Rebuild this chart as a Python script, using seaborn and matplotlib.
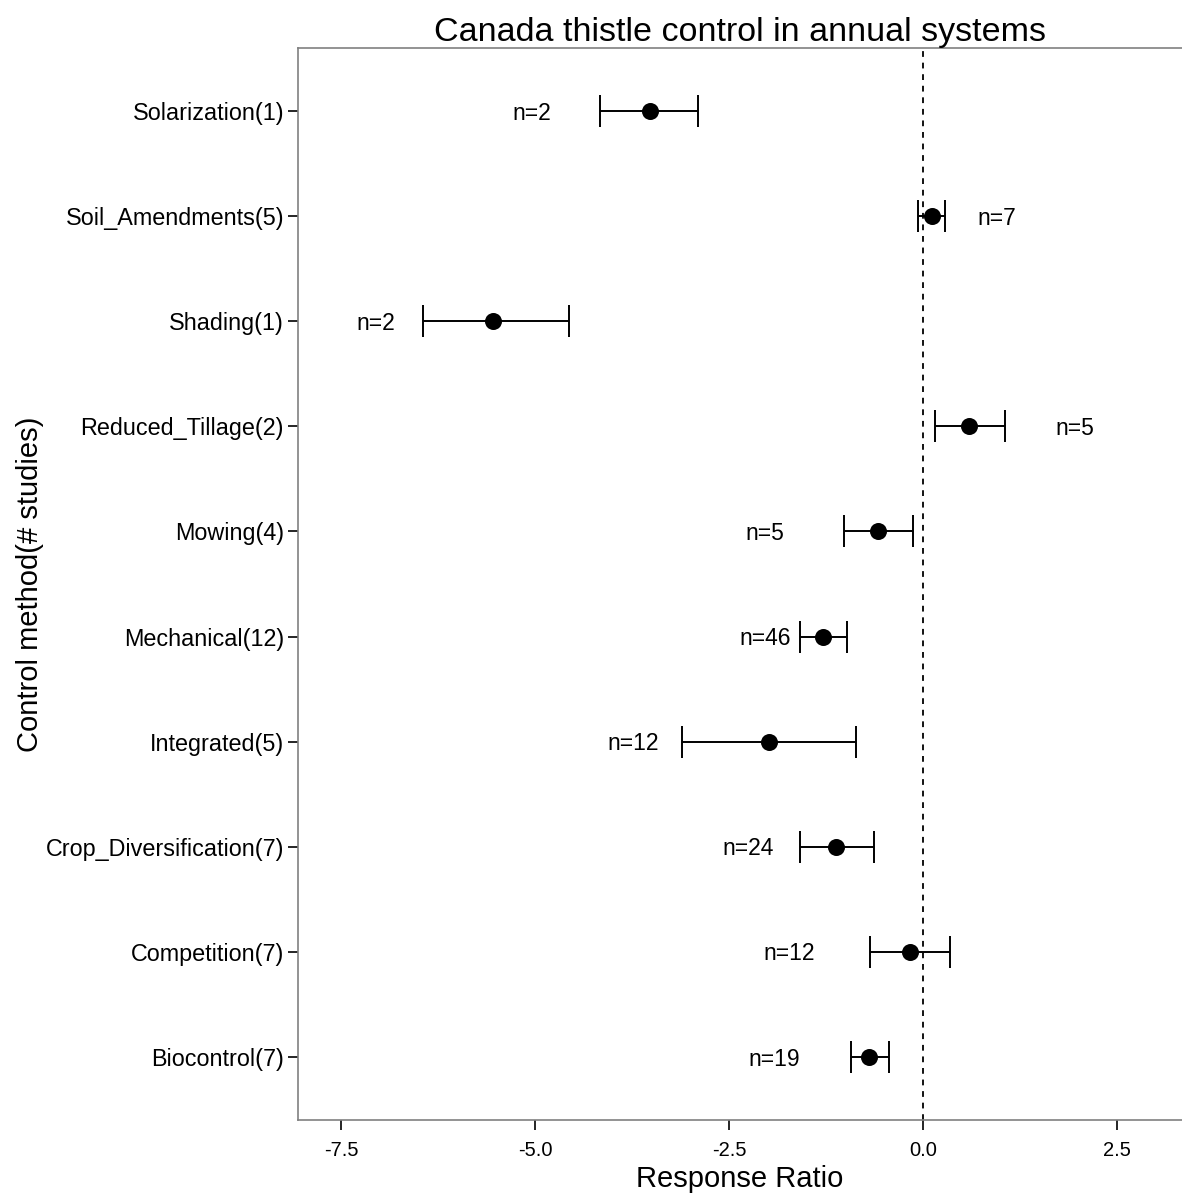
import numpy as np
import pandas as pd
import matplotlib
matplotlib.use("Agg")
import matplotlib.pyplot as plt
import seaborn as sns

# values (top to bottom)
methods = ["Solarization(1)", "Soil_Amendments(5)", "Shading(1)", "Reduced_Tillage(2)",
           "Mowing(4)", "Mechanical(12)", "Integrated(5)", "Crop_Diversification(7)",
           "Competition(7)", "Biocontrol(7)"]
rr = [-3.52, 0.12, -5.54, 0.59, -0.58, -1.29, -1.99, -1.12, -0.17, -0.70]
ci_low = [-4.17, -0.06, -6.45, 0.15, -1.02, -1.59, -3.11, -1.59, -0.68, -0.93]
ci_high = [-2.90, 0.28, -4.57, 1.06, -0.13, -0.98, -0.86, -0.63, 0.35, -0.44]
n_labels = ["n=2", "n=7", "n=2", "n=5", "n=5", "n=46", "n=12", "n=24", "n=12", "n=19"]
n_x = [-5.05, 0.95, -7.06, 1.96, -2.04, -2.03, -3.74, -2.25, -1.73, -1.92]

df = pd.DataFrame({"method": methods, "rr": rr, "lo": ci_low, "hi": ci_high,
                   "n": n_labels, "nx": n_x})

sns.set_style("white")
plt.rcParams["font.family"] = ["Liberation Sans", "DejaVu Sans"]
plt.rcParams["text.color"] = "black"
plt.rcParams["axes.labelcolor"] = "black"

fig = plt.figure(figsize=(11.82, 11.99), dpi=100)
ax = fig.add_axes([0.2521, 0.0659, 0.7479, 0.894])

pos = np.arange(len(df))
ax.errorbar(df["rr"], pos, xerr=[df["rr"] - df["lo"], df["hi"] - df["rr"]],
            fmt="none", ecolor="black", elinewidth=1.4, capsize=11.5, capthick=1.4, zorder=2)
sns.scatterplot(data=df, x="rr", y="method", ax=ax, color="black", s=150,
                edgecolor="black", linewidth=0, zorder=3)
for i, row in df.iterrows():
    ax.text(row["nx"], i + 0.02, row["n"], ha="center", va="center", fontsize=16.5, color="black")

ax.axvline(0, color="black", linestyle=(0, (3.2, 3.2)), linewidth=1.3, zorder=1)

ax.set_xlim(-8.06, 3.34)
ax.set_ylim(len(df) - 0.4, -0.6)
ax.set_xticks([-7.5, -5.0, -2.5, 0.0, 2.5])
ax.set_xticklabels(["-7.5", "-5.0", "-2.5", "0.0", "2.5"])

for side in ["left", "top", "bottom"]:
    ax.spines[side].set_color("#808080")
    ax.spines[side].set_linewidth(1.2)
ax.spines["right"].set_visible(False)

ax.tick_params(axis="both", which="both", length=7, width=1.2, color="black",
               labelcolor="black", direction="out", left=True, bottom=True)
ax.tick_params(axis="y", labelsize=16.8, pad=3)
ax.tick_params(axis="x", labelsize=14.5, pad=8)

ax.set_title("Canada thistle control in annual systems", fontsize=24.5, pad=4, color="black")
ax.set_xlabel("Response Ratio", fontsize=21, labelpad=4, color="black")
ax.set_ylabel("Control method(# studies)", fontsize=21, labelpad=1, color="black")

fig.savefig("out.png", dpi=100)
